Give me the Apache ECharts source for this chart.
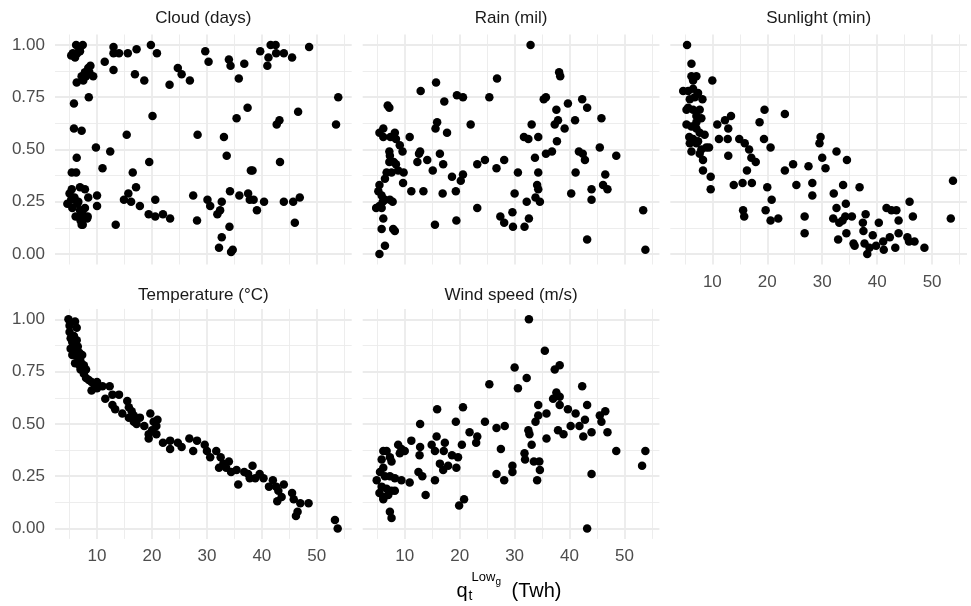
<!DOCTYPE html>
<html>
<head>
<meta charset="utf-8">
<style>html,body{margin:0;padding:0;background:#fff}#chart{width:971px;height:606px}</style>
<script src="https://cdn.jsdelivr.net/npm/echarts@6.0.0/dist/echarts.min.js"></script>
</head>
<body>
<div id="chart"></div>
<script>
// facet titles, in facet_wrap order
var panelNames = ['Cloud (days)', 'Rain (mil)', 'Sunlight (min)', 'Temperature (°C)', 'Wind speed (m/s)'];
var xTicks = [10, 20, 30, 40, 50];
var xMinorTicks = [5, 15, 25, 35, 45, 55];
var yTicks = [0, 0.25, 0.5, 0.75, 1];
var yMinorTicks = [0.125, 0.375, 0.625, 0.875];

// [q_t (Twh), normalised value]
var cloud = [
  [5.6,0.96],[6.2,1.00],[6.4,0.96],[7.4,1.00],[6.9,0.97],[5.3,0.95],[6.0,0.94],[6.8,0.98],
  [6.3,0.82],[7.2,0.85],[7.8,0.87],[8.4,0.89],[8.8,0.90],[9.3,0.85],[8.0,0.85],[8.6,0.87],[7.5,0.83],
  [8.5,0.75],[5.8,0.72],[5.8,0.60],[7.2,0.59],[6.3,0.46],[5.4,0.39],[6.2,0.39],
  [5.4,0.31],[6.9,0.32],[7.8,0.31],[4.6,0.24],[5.3,0.26],[5.9,0.27],[5.5,0.22],[6.4,0.24],
  [6.9,0.21],[7.3,0.20],[7.8,0.22],[6.1,0.18],[7.0,0.16],[7.2,0.14],[8.2,0.17],[6.6,0.25],
  [8.4,0.27],[5.0,0.29],[7.4,0.14],[6.9,0.18],[8.3,0.18],
  [9.8,0.51],[10.0,0.28],[10.0,0.23],[11.4,0.92],[11.0,0.41],[12.4,0.49],[13.0,0.99],[13.0,0.96],
  [14.0,0.96],[13.0,0.88],[13.4,0.14],[15.6,0.96],[15.4,0.57],[14.9,0.26],[15.7,0.29],[16.2,0.25],
  [17.1,0.32],[16.5,0.39],[16.9,0.86],[17.2,0.98],[17.8,0.23],[18.6,0.83],[19.4,0.19],[20.6,0.18],
  [22.0,0.19],[23.3,0.17],[19.5,0.44],[19.8,1.00],[20.9,0.96],[20.1,0.66],[20.6,0.26],[23.2,0.81],
  [24.7,0.89],[25.4,0.86],[26.9,0.83],[27.5,0.28],[28.2,0.16],[28.3,0.57],[29.7,0.97],[30.1,0.26],
  [30.6,0.23],[30.3,0.92],[31.9,0.19],[32.4,0.21],[32.7,0.25],[32.2,0.03],[32.7,0.08],[33.1,0.56],
  [33.6,0.47],[34.0,0.93],[34.3,0.90],[34.2,0.30],[34.1,0.13],[34.4,0.01],[34.7,0.02],[35.8,0.84],
  [35.9,0.28],[35.4,0.65],[36.8,0.91],[37.4,0.70],[37.5,0.29],[37.8,0.26],[38.5,0.26],[38.0,0.40],
  [38.3,0.40],[39.1,0.21],[39.7,0.97],[40.4,0.25],[41.0,0.90],[41.2,0.94],[41.6,1.00],[42.5,1.00],
  [42.6,0.96],[42.7,0.62],[43.2,0.64],[43.3,0.44],[44.0,0.96],[44.0,0.25],[45.5,0.94],[45.7,0.25],
  [46.9,0.27],[46.0,0.15],[46.6,0.68],[48.6,0.99],[53.5,0.62],[53.9,0.75]
];
var rain = [
  [32.9,1.00],[38.1,0.87],[38.3,0.85],[26.8,0.84],[15.7,0.82],[12.9,0.78],[19.5,0.76],[20.6,0.75],
  [25.4,0.75],[17.2,0.73],[35.7,0.75],[35.3,0.74],[39.7,0.72],[42.3,0.74],[43.2,0.70],[37.6,0.69],
  [6.9,0.71],[7.2,0.70],[45.8,0.65],[41.0,0.64],[37.9,0.64],[37.3,0.62],[39.1,0.60],[33.1,0.62],
  [15.9,0.63],[15.6,0.60],[22.0,0.62],[17.7,0.58],[6.1,0.60],[5.4,0.58],[6.1,0.56],[7.4,0.56],
  [8.2,0.58],[8.4,0.55],[10.9,0.56],[31.7,0.56],[32.5,0.55],[34.3,0.56],[37.7,0.54],[9.1,0.52],
  [9.6,0.49],[7.2,0.49],[7.3,0.47],[12.8,0.49],[12.6,0.48],[12.3,0.44],[14.1,0.45],[16.4,0.48],
  [17.0,0.43],[15.1,0.40],[23.2,0.43],[24.6,0.45],[26.7,0.41],[28.1,0.45],[30.6,0.39],[33.7,0.46],
  [35.7,0.48],[36.8,0.49],[41.7,0.49],[42.4,0.48],[42.8,0.45],[45.5,0.51],[48.5,0.47],[34.3,0.39],
  [41.1,0.39],[46.5,0.38],[7.2,0.44],[8.0,0.44],[8.4,0.43],[8.8,0.40],[9.8,0.39],[6.7,0.39],
  [6.4,0.36],[7.6,0.39],[9.7,0.34],[11.2,0.30],[13.4,0.30],[16.9,0.29],[18.6,0.37],[20.2,0.35],
  [20.6,0.38],[19.3,0.30],[5.4,0.33],[5.2,0.30],[5.8,0.28],[4.8,0.22],[5.4,0.23],[6.0,0.25],
  [6.4,0.26],[7.3,0.26],[7.8,0.25],[5.8,0.22],[30.0,0.29],[34.1,0.33],[34.3,0.31],[33.8,0.27],
  [34.6,0.25],[32.2,0.25],[23.2,0.22],[27.4,0.18],[28.1,0.15],[29.6,0.20],[29.7,0.13],[31.8,0.13],
  [32.6,0.17],[19.4,0.16],[15.5,0.14],[40.3,0.29],[44.0,0.31],[44.0,0.26],[46.1,0.33],[46.9,0.31],
  [6.1,0.17],[5.8,0.12],[7.9,0.12],[8.2,0.11],[6.4,0.04],[5.4,0.00],[43.2,0.07],[53.4,0.21],[53.8,0.02]
];
var sunlight = [
  [5.4,1.00],[6.2,0.91],[6.2,0.85],[7.1,0.85],[6.5,0.83],[10.0,0.83],[4.7,0.78],[5.6,0.78],
  [6.5,0.79],[7.4,0.77],[5.9,0.74],[6.8,0.75],[8.2,0.74],[5.6,0.70],[6.5,0.69],[5.3,0.69],
  [7.1,0.66],[7.7,0.69],[5.3,0.62],[6.2,0.61],[7.1,0.63],[8.0,0.65],[7.1,0.60],[7.7,0.58],
  [8.6,0.57],[5.8,0.56],[6.5,0.55],[7.4,0.54],[5.9,0.53],[7.1,0.53],[8.9,0.51],[8.0,0.50],
  [9.4,0.51],[6.2,0.49],[7.7,0.48],[8.3,0.45],[8.3,0.40],[9.7,0.37],[9.7,0.31],
  [10.9,0.62],[12.3,0.64],[13.4,0.66],[12.9,0.60],[11.2,0.55],[12.8,0.55],[12.9,0.47],
  [14.9,0.55],[15.9,0.53],[16.7,0.50],[17.1,0.46],[17.9,0.44],[16.3,0.40],[13.9,0.33],[15.5,0.34],
  [17.2,0.34],[15.6,0.21],[15.8,0.18],[18.6,0.63],[19.5,0.69],[19.4,0.55],[20.6,0.51],[20.0,0.32],
  [20.8,0.26],[19.7,0.21],[20.6,0.16],[22.0,0.17],[23.2,0.67],[23.2,0.40],[24.7,0.43],[25.3,0.33],
  [26.8,0.18],[26.8,0.10],[27.5,0.42],[28.2,0.34],[28.2,0.28],[29.7,0.56],[29.5,0.53],[30.0,0.46],
  [30.6,0.41],[32.6,0.49],[34.5,0.45],[32.1,0.29],[33.8,0.33],[36.8,0.32],[32.6,0.22],[34.3,0.24],
  [32.0,0.17],[33.7,0.16],[33.1,0.15],[34.2,0.18],[35.4,0.18],[32.9,0.07],[34.4,0.10],[35.7,0.05],
  [35.9,0.04],[37.4,0.15],[37.9,0.19],[37.5,0.11],[37.7,0.05],[38.2,0.00],[38.6,0.03],[39.2,0.09],
  [39.8,0.04],[40.3,0.15],[41.1,0.06],[41.2,0.02],[41.7,0.22],[42.6,0.21],[43.5,0.21],[42.3,0.08],
  [43.3,0.03],[43.9,0.16],[43.9,0.10],[45.5,0.08],[45.8,0.06],[46.8,0.06],[45.9,0.25],[46.5,0.18],
  [48.6,0.03],[53.4,0.17],[53.8,0.35]
];
var temperature = [
  [4.8,1.00],[5.0,0.97],[5.0,0.94],[5.2,0.91],[5.2,0.86],[5.5,0.89],[5.5,0.83],[5.8,0.92],
  [5.8,0.88],[6.0,0.99],[6.0,0.85],[6.0,0.79],[6.3,0.96],[6.3,0.90],[6.5,0.87],[6.5,0.82],
  [6.8,0.84],[6.8,0.78],[7.0,0.80],[7.0,0.76],[7.3,0.83],[7.6,0.78],[7.6,0.74],[8.0,0.76],
  [8.0,0.72],[8.5,0.71],[9.0,0.70],[9.0,0.66],[9.5,0.69],[10.0,0.70],[10.0,0.67],[11.0,0.68],
  [11.5,0.62],[12.3,0.68],[12.8,0.64],[12.8,0.59],[13.3,0.57],[14.0,0.64],[14.6,0.55],[15.5,0.61],
  [15.8,0.58],[15.8,0.53],[16.3,0.56],[16.7,0.54],[16.7,0.51],[17.2,0.50],[17.8,0.53],[18.6,0.49],
  [19.4,0.45],[19.4,0.43],[19.7,0.55],[20.0,0.47],[20.3,0.51],[20.8,0.49],[20.8,0.45],[21.0,0.52],
  [22.0,0.41],[23.3,0.42],[23.3,0.38],[24.7,0.41],[25.4,0.39],[26.8,0.43],[27.5,0.37],[28.2,0.42],
  [29.6,0.40],[30.0,0.37],[30.6,0.34],[31.7,0.37],[32.2,0.29],[32.5,0.34],[33.0,0.31],[33.5,0.29],
  [34.0,0.32],[34.4,0.27],[35.4,0.28],[35.7,0.21],[36.8,0.27],[37.5,0.26],[37.8,0.24],[38.3,0.30],
  [38.8,0.24],[39.6,0.26],[40.3,0.24],[41.3,0.20],[42.0,0.23],[42.6,0.20],[42.8,0.13],[43.0,0.18],
  [43.6,0.15],[44.0,0.21],[45.5,0.17],[45.8,0.14],[46.2,0.06],[46.5,0.08],[47.0,0.12],[48.5,0.12],
  [53.3,0.04],[53.8,0.00]
];
var windSpeed = [
  [32.6,1.00],[35.5,0.85],[30.0,0.77],[32.2,0.72],[37.3,0.76],[38.2,0.78],[25.4,0.69],[30.6,0.67],
  [42.3,0.68],[37.6,0.65],[37.0,0.62],[38.2,0.63],[34.3,0.59],[34.3,0.54],[35.8,0.55],[38.2,0.59],
  [39.7,0.57],[43.2,0.59],[15.9,0.57],[20.6,0.58],[19.3,0.51],[12.8,0.50],[24.6,0.51],[26.7,0.48],
  [28.2,0.49],[32.5,0.47],[32.7,0.45],[33.8,0.51],[33.1,0.40],[35.8,0.43],[37.9,0.47],[38.9,0.45],
  [40.2,0.49],[41.1,0.55],[41.8,0.49],[42.8,0.52],[42.5,0.44],[44.0,0.46],[45.5,0.54],[45.8,0.51],
  [46.5,0.56],[46.9,0.46],[48.5,0.37],[53.2,0.30],[53.8,0.37],[15.8,0.44],[11.2,0.42],[12.8,0.39],
  [12.7,0.35],[14.9,0.40],[15.5,0.37],[16.4,0.31],[17.0,0.28],[17.3,0.41],[17.1,0.37],[17.9,0.30],
  [18.6,0.35],[19.7,0.34],[19.4,0.29],[20.4,0.40],[21.8,0.46],[23.2,0.44],[23.0,0.41],[27.5,0.38],
  [26.7,0.26],[28.1,0.23],[29.6,0.30],[29.6,0.27],[31.8,0.36],[31.9,0.33],[33.5,0.32],[34.5,0.32],
  [34.6,0.28],[34.1,0.23],[12.5,0.27],[13.2,0.25],[15.5,0.23],[13.8,0.16],[19.9,0.11],[20.8,0.14],
  [44.0,0.26],[43.2,0.00],[6.1,0.37],[6.7,0.37],[5.8,0.33],[7.3,0.34],[6.1,0.29],[7.6,0.32],
  [8.8,0.40],[9.4,0.38],[9.1,0.36],[10.0,0.37],[4.9,0.23],[5.5,0.27],[6.4,0.25],[7.3,0.25],
  [8.2,0.24],[9.4,0.23],[10.9,0.22],[5.8,0.20],[6.7,0.19],[7.6,0.18],[6.1,0.15],[7.0,0.16],
  [8.2,0.18],[6.1,0.14],[7.3,0.08],[7.6,0.05],[5.4,0.17]
];
var panelData = [cloud, rain, sunlight, temperature, windSpeed];

var chart = echarts.init(document.getElementById('chart'));

var xMin = 2.35, xMax = 56.35, yMin = -0.05, yMax = 1.05;
var lefts = [55, 362.7, 670.3, 55, 362.7];
var tops = [34.5, 34.5, 34.5, 308.9, 308.9];
var stripY = [18.5, 18.5, 18.5, 295, 295];
var W = 296.7, H = 230;
var showX = [false, false, true, true, true];
var showY = [true, false, false, true, false];
var tickFont = { color: '#4D4D4D', fontSize: 17, fontFamily: 'Liberation Sans' };

var grids = [], xAxes = [], yAxes = [], series = [], graphics = [];
for (var i = 0; i < 5; i++) {
  grids.push({ left: lefts[i], top: tops[i], width: W, height: H });
  // major gridlines + labels
  xAxes.push({
    type: 'value', gridIndex: i, min: xMin, max: xMax,
    axisLine: { show: false }, axisTick: { show: false, customValues: xTicks },
    axisLabel: Object.assign({ show: showX[i], customValues: xTicks, margin: 9 }, tickFont),
    splitLine: { show: true, lineStyle: { color: '#EBEBEB', width: 1.8 } }
  });
  // minor gridlines
  xAxes.push({
    type: 'value', gridIndex: i, min: xMin, max: xMax,
    axisLine: { show: false }, axisTick: { show: false, customValues: xMinorTicks },
    axisLabel: { show: false },
    splitLine: { show: true, lineStyle: { color: '#EBEBEB', width: 0.9 } }
  });
  yAxes.push({
    type: 'value', gridIndex: i, min: yMin, max: yMax,
    axisLine: { show: false }, axisTick: { show: false, customValues: yTicks },
    axisLabel: Object.assign({
      show: showY[i], customValues: yTicks, margin: 10,
      formatter: function (v) { return v.toFixed(2); }
    }, tickFont),
    splitLine: { show: true, lineStyle: { color: '#EBEBEB', width: 1.8 } }
  });
  yAxes.push({
    type: 'value', gridIndex: i, min: yMin, max: yMax,
    axisLine: { show: false }, axisTick: { show: false, customValues: yMinorTicks },
    axisLabel: { show: false },
    splitLine: { show: true, lineStyle: { color: '#EBEBEB', width: 0.9 } }
  });
  series.push({
    type: 'scatter', xAxisIndex: 2 * i, yAxisIndex: 2 * i,
    data: panelData[i], symbolSize: 8.5,
    itemStyle: { color: '#000', opacity: 1 }, silent: true
  });
  // facet strip
  graphics.push({
    type: 'text', x: lefts[i] + W / 2, y: stripY[i],
    style: { text: panelNames[i], fill: '#1A1A1A', font: '17px "Liberation Sans"',
      textAlign: 'center', textVerticalAlign: 'middle', verticalAlign: 'middle' }
  });
}

// x axis title: q_t^{Low_g} (Twh)
function titlePart(txt, x, y, size) {
  return { type: 'text', x: x, y: y,
    style: { text: txt, fill: '#000', font: size + 'px "Liberation Sans"',
      textAlign: 'left', textVerticalAlign: 'middle', verticalAlign: 'middle' } };
}
graphics.push(titlePart('q', 456.5, 591, 20));
graphics.push(titlePart('t', 468.5, 596, 14));
graphics.push(titlePart('Low', 471.5, 577, 13));
graphics.push(titlePart('g', 495.5, 582, 10));
graphics.push(titlePart('(Twh)', 511.5, 591, 20));

var option = {
  animation: false,
  grid: grids,
  xAxis: xAxes,
  yAxis: yAxes,
  series: series,
  graphic: graphics
};
chart.setOption(option);
</script>
</body>
</html>
